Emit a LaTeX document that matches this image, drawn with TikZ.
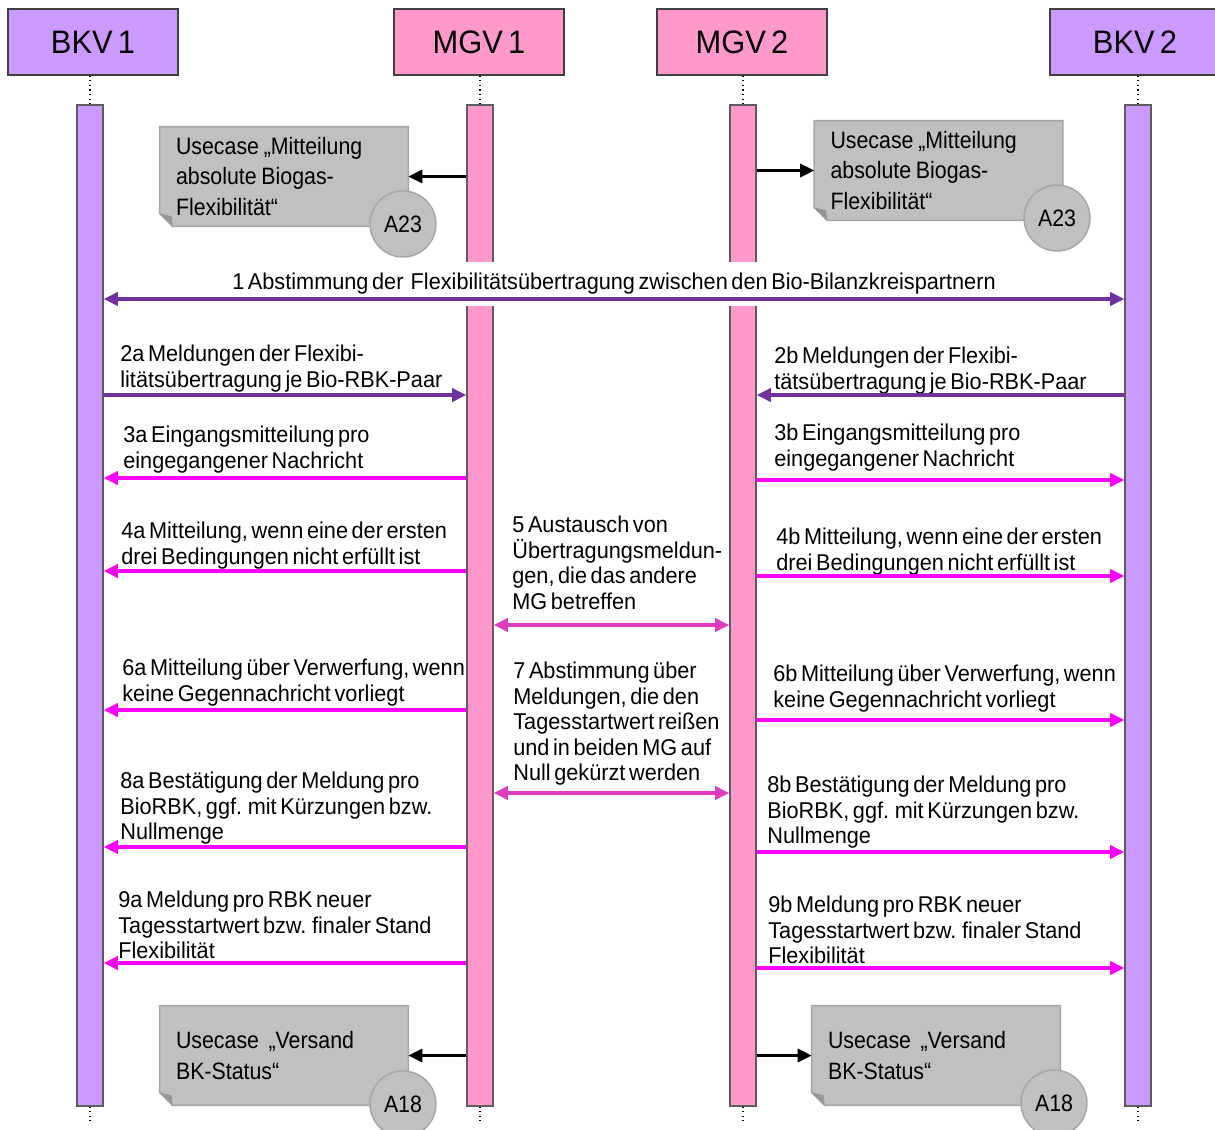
\documentclass[tikz,border=0pt]{standalone}
\usepackage{fontspec}
\setmainfont{Liberation Sans}[FakeStretch=0.95, WordSpace=0.6]
\newfontfamily\ucfont{Liberation Sans}[FakeStretch=0.9, WordSpace=0.8]
\usepackage{xcolor}
\usepackage{tikz}
\usetikzlibrary{arrows.meta, positioning, calc, backgrounds}
\definecolor{Ink}{HTML}{000000}
\definecolor{Frame}{HTML}{404040}
\definecolor{Lilac}{HTML}{CC99FF}
\definecolor{Rose}{HTML}{FF99CC}
\definecolor{Violet}{HTML}{7030A0}
\definecolor{MsgPink}{HTML}{FF00FF}
\definecolor{Orchid}{HTML}{E03CC0}
\definecolor{Stone}{HTML}{C0C0C0}
\definecolor{StoneLine}{HTML}{A6A6A6}
\definecolor{StoneFold}{HTML}{969696}

\begin{document}
\begin{tikzpicture}[
  x=0.02cm, y=-0.02cm,
  head/.style={draw=Frame, line width=0.85pt, minimum width=3.4cm, minimum height=1.32cm, font=\fontsize{18.5}{22}\selectfont},
  bar/.style={draw=Frame!85, line width=0.85pt, minimum width=0.52cm, minimum height=20.02cm, inner sep=0pt},
  life/.style={dotted, line width=0.6pt, draw=Ink},
  msg/.style={font=\fontsize{13}{14.5}\selectfont, align=flush left, anchor=north west, inner sep=0pt},
  usecase/.style={font=\ucfont\fontsize{13.5}{17.6}\selectfont, align=flush left, text width=4.32cm, inner xsep=0.32cm, inner ysep=0pt, minimum width=4.96cm, minimum height=1.98cm},
  badge/.style={circle, fill=Stone, draw=StoneLine, line width=0.8pt, minimum size=1.32cm, inner sep=0pt, font=\ucfont\fontsize{13.5}{16}\selectfont},
  ucshape/.style={fill=Stone, draw=StoneLine, line width=0.9pt},
  arrowP/.style={-{Triangle[length=8pt, width=7.5pt]}, line width=1.8pt, draw=Violet},
  arrowM/.style={-{Triangle[length=8pt, width=7.5pt]}, line width=1.8pt, draw=MsgPink},
  arrowD/.style={{Triangle[length=8pt, width=7.5pt]}-{Triangle[length=8pt, width=7.5pt]}, line width=1.8pt, draw=Orchid},
  callarrow/.style={-{Triangle[length=8pt, width=7.5pt]}, line width=1.7pt, draw=Ink}
]
\useasboundingbox (0,0) rectangle (1215,1130);

% lifeline heads
\node[head, fill=Lilac] (bkvA) at (93,42) {BKV 1};
\node[head, fill=Rose] (mgvA) at (479,42) {MGV 1};
\node[head, fill=Rose] (mgvB) at (742,42) {MGV 2};
\node[head, fill=Lilac] (bkvB) at (1135,42) {BKV 2};

\node[bar, fill=Lilac] (barBA) at (90,605.5) {};
\node[bar, fill=Rose] (barMA) at (480,605.5) {};
\node[bar, fill=Rose] (barMB) at (743,605.5) {};
\node[bar, fill=Lilac] (barBB) at (1138,605.5) {};

\draw[life] (barBA.north |- bkvA.south) -- (barBA.north);
\draw[life] (barMA.north |- mgvA.south) -- (barMA.north);
\draw[life] (barMB.north |- mgvB.south) -- (barMB.north);
\draw[life] (barBB.north |- bkvB.south) -- (barBB.north);
\draw[life] (barBA.south) -- ++(0,16);
\draw[life] (barMA.south) -- ++(0,16);
\draw[life] (barMB.south) -- ++(0,16);
\draw[life] (barBB.south) -- ++(0,16);

% message rows
\coordinate (r1) at (0,299);
\coordinate (r2) at (0,395);
\coordinate (r3a) at (0,478);
\coordinate (r3b) at (0,480);
\coordinate (r4a) at (0,571);
\coordinate (r4b) at (0,576);
\coordinate (r5) at (0,625);
\coordinate (r6a) at (0,710);
\coordinate (r6b) at (0,720);
\coordinate (r7) at (0,793);
\coordinate (r8a) at (0,847);
\coordinate (r8b) at (0,852);
\coordinate (r9a) at (0,963);
\coordinate (r9b) at (0,968);

\node[fill=white, minimum width=20.2cm, minimum height=0.88cm, inner sep=0pt, font=\fontsize{13}{14.5}\selectfont] (txt1) at (614,284) {1 Abstimmung der~~Flexibilitätsübertragung zwischen den Bio-Bilanzkreispartnern};
\draw[arrowD, draw=Violet] (barBA.east |- r1) -- (barBB.west |- r1);

\node[msg] (txt2a) at (120,345) {2a Meldungen der Flexibi-\\litätsübertragung je Bio-RBK-Paar};
\draw[arrowP] (barBA.east |- r2) -- (barMA.west |- r2);
\node[msg] (txt2b) at (774,347) {2b Meldungen der Flexibi-\\tätsübertragung je Bio-RBK-Paar};
\draw[arrowP] (barBB.west |- r2) -- (barMB.east |- r2);

\node[msg] (txt3a) at (123,426) {3a Eingangsmitteilung pro\\eingegangener Nachricht};
\draw[arrowM] (barMA.west |- r3a) -- (barBA.east |- r3a);
\node[msg] (txt3b) at (774,424) {3b Eingangsmitteilung pro\\eingegangener Nachricht};
\draw[arrowM] (barMB.east |- r3b) -- (barBB.west |- r3b);

\node[msg] (txt4a) at (121,522) {4a Mitteilung, wenn eine der ersten\\drei Bedingungen nicht erfüllt ist};
\draw[arrowM] (barMA.west |- r4a) -- (barBA.east |- r4a);
\node[msg] (txt4b) at (776,528) {4b Mitteilung, wenn eine der ersten\\drei Bedingungen nicht erfüllt ist};
\draw[arrowM] (barMB.east |- r4b) -- (barBB.west |- r4b);

\node[msg] (txt5) at (512,516) {5 Austausch von\\Übertragungsmeldun-\\gen, die das andere\\MG betreffen};
\draw[arrowD] (barMA.east |- r5) -- (barMB.west |- r5);

\node[msg] (txt6a) at (122,659) {6a Mitteilung über Verwerfung, wenn\\keine Gegennachricht vorliegt};
\draw[arrowM] (barMA.west |- r6a) -- (barBA.east |- r6a);
\node[msg] (txt6b) at (773,665) {6b Mitteilung über Verwerfung, wenn\\keine Gegennachricht vorliegt};
\draw[arrowM] (barMB.east |- r6b) -- (barBB.west |- r6b);

\node[msg] (txt7) at (513,662) {7 Abstimmung über\\Meldungen, die den\\Tagesstartwert reißen\\und in beiden MG auf\\Null gekürzt werden};
\draw[arrowD] (barMA.east |- r7) -- (barMB.west |- r7);

\node[msg] (txt8a) at (120,772) {8a Bestätigung der Meldung pro\\BioRBK, ggf. mit Kürzungen bzw.\\Nullmenge};
\draw[arrowM] (barMA.west |- r8a) -- (barBA.east |- r8a);
\node[msg] (txt8b) at (767,776) {8b Bestätigung der Meldung pro\\BioRBK, ggf. mit Kürzungen bzw.\\Nullmenge};
\draw[arrowM] (barMB.east |- r8b) -- (barBB.west |- r8b);

\node[msg] (txt9a) at (118,891) {9a Meldung pro RBK neuer\\Tagesstartwert bzw. finaler Stand\\Flexibilität};
\draw[arrowM] (barMA.west |- r9a) -- (barBA.east |- r9a);
\node[msg] (txt9b) at (768,896) {9b Meldung pro RBK neuer\\Tagesstartwert bzw. finaler Stand\\Flexibilität};
\draw[arrowM] (barMB.east |- r9b) -- (barBB.west |- r9b);

% use cases
\node[usecase] (ucMA) at (284,176.5) {Usecase „Mitteilung\\absolute Biogas-\\Flexibilität“};
\node[usecase] (ucMB) at (938.5,170.5) {Usecase „Mitteilung\\absolute Biogas-\\Flexibilität“};
\node[usecase] (ucVA) at (284,1055.5) {Usecase~~„Versand\\BK-Status“};
\node[usecase] (ucVB) at (936,1055.5) {Usecase~~„Versand\\BK-Status“};
\begin{scope}[on background layer]
\foreach \uc in {ucMA,ucMB,ucVA,ucVB}{
  \filldraw[ucshape] (\uc.north west) -- (\uc.north east) -- (\uc.south east) -- ($(\uc.south west)+(13,0)$) -- ($(\uc.south west)+(0,-13)$) -- cycle;
  \fill[StoneFold] ($(\uc.south west)+(0,-13)$) -- ($(\uc.south west)+(12,-10)$) -- ($(\uc.south west)+(13,0)$) -- cycle;
}
\end{scope}
\node[badge] (bdgMA) at (403,224) {A23};
\node[badge] (bdgMB) at (1057,218) {A23};
\node[badge] (bdgVA) at (403,1104) {A18};
\node[badge] (bdgVB) at (1054,1103) {A18};

\draw[callarrow] (barMA.west |- ucMA.east) -- (ucMA.east);
\draw[callarrow] (barMB.east |- ucMB.west) -- (ucMB.west);
\draw[callarrow] (barMA.west |- ucVA.east) -- (ucVA.east);
\draw[callarrow] (barMB.east |- ucVB.west) -- (ucVB.west);
\end{tikzpicture}
\end{document}
